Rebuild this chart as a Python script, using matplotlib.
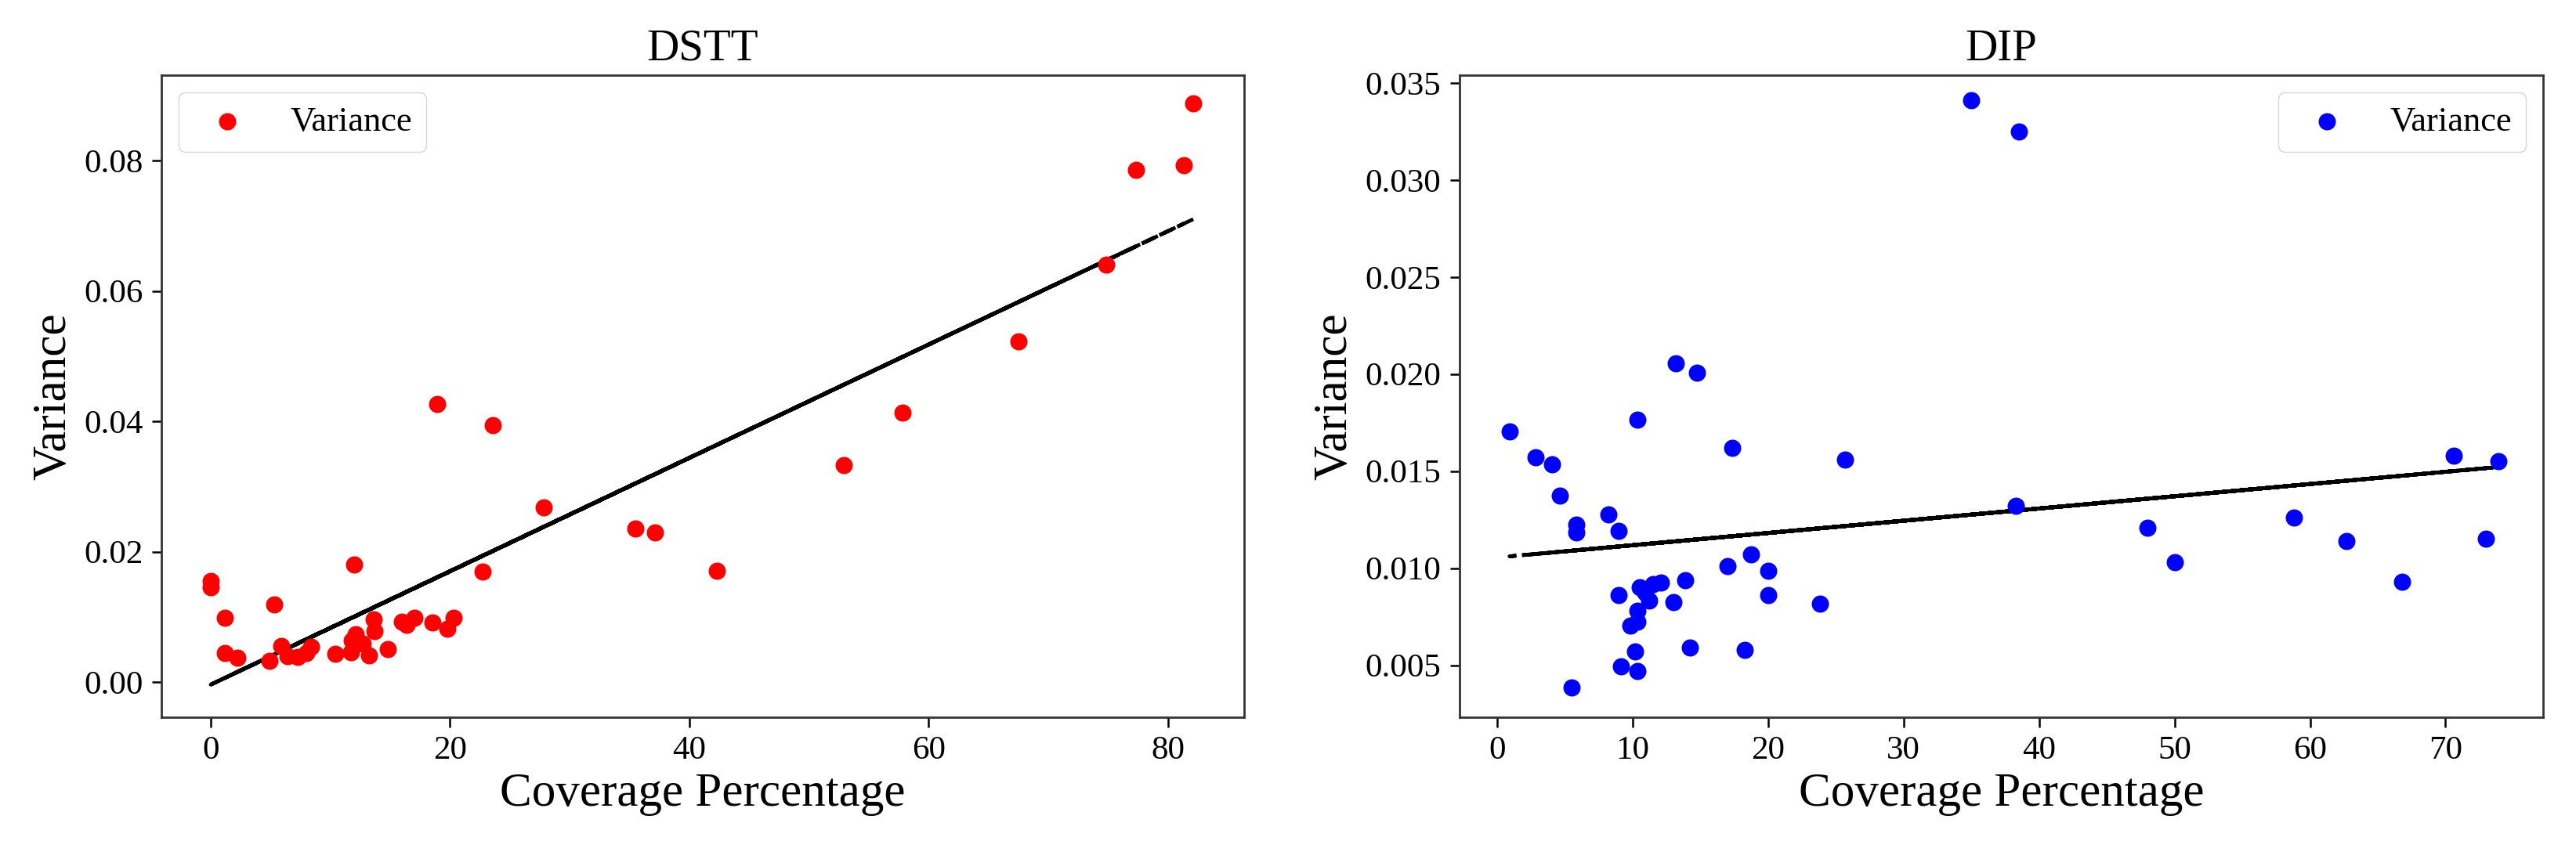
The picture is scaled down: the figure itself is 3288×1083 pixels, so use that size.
import numpy as np
import matplotlib
matplotlib.use("Agg")
import matplotlib.pyplot as plt

plt.rcParams['font.family'] = ['Liberation Serif', 'DejaVu Serif']

# DSTT: coverage percentage vs variance
dstt_cov = [82.1, 0.0, 12.0, 81.3, 1.2, 77.3, 5.3, 74.8, 0.0, 67.5, 22.7, 57.8,
            1.2, 52.9, 2.2, 42.3, 4.9, 37.1, 5.9, 35.5, 6.4, 27.8, 7.3, 23.6,
            8.0, 18.9, 8.4, 10.4, 11.7, 11.8, 12.1, 12.7, 13.2, 13.6, 13.7,
            14.8, 16.0, 16.4, 17.0, 18.5, 19.8, 20.3]
dstt_var = [0.0888, 0.0155, 0.0180, 0.0793, 0.0098, 0.0786, 0.0119, 0.0640,
            0.0145, 0.0522, 0.0169, 0.0413, 0.0044, 0.0333, 0.0037, 0.0171,
            0.0033, 0.0229, 0.0055, 0.0236, 0.0040, 0.0268, 0.0039, 0.0394,
            0.0044, 0.0427, 0.0054, 0.0043, 0.0046, 0.0064, 0.0073, 0.0059,
            0.0041, 0.0096, 0.0078, 0.0051, 0.0092, 0.0088, 0.0098, 0.0091,
            0.0082, 0.0098]

# DIP: coverage percentage vs variance
dip_cov = [13.18, 35.0, 14.76, 38.5, 10.36, 70.6, 0.92, 73.9, 17.36, 38.3,
           2.85, 48.0, 4.06, 58.8, 25.68, 62.7, 4.62, 73.0, 8.24, 50.0, 5.84,
           66.8, 5.84, 8.98, 18.76, 17.01, 20.0, 20.0, 23.82, 13.87, 12.1,
           11.52, 10.55, 10.94, 11.23, 8.98, 13.0, 10.36, 10.36, 9.83, 14.22,
           18.27, 10.21, 9.15, 10.36, 5.49]
dip_var = [0.02057, 0.0341, 0.02006, 0.0325, 0.01764, 0.0158, 0.01703, 0.0155,
           0.01618, 0.0132, 0.01571, 0.0121, 0.01535, 0.0126, 0.01558, 0.0114,
           0.01374, 0.0115, 0.01277, 0.0103, 0.01225, 0.0093, 0.01185, 0.01192,
           0.01071, 0.01010, 0.00986, 0.00862, 0.00815, 0.00936, 0.00926,
           0.00916, 0.00902, 0.00875, 0.00835, 0.00862, 0.00826, 0.00781,
           0.00724, 0.00703, 0.00593, 0.00580, 0.00569, 0.00496, 0.00472,
           0.00387]


def draw_panel(ax, cov, var, color, title, legend_loc, xlim, ylim, yticks, yfmt):
    cov = np.array(cov)
    var = np.array(var)
    ax.scatter(cov, var, s=220, color=color, label='Variance', zorder=3)
    fit = np.poly1d(np.polyfit(cov, var, 1))
    # unsorted x on purpose, dashes pile up like the original
    ax.plot(cov, fit(cov), 'k--', lw=3.4, zorder=2)
    ax.set_xlim(*xlim)
    ax.set_ylim(*ylim)
    ax.set_yticks(yticks)
    ax.set_yticklabels([yfmt % t for t in yticks])
    ax.set_title(title, fontsize=41, pad=14)
    ax.set_xlabel('Coverage Percentage', fontsize=44, labelpad=6)
    ax.set_ylabel('Variance', fontsize=44, labelpad=8)
    ax.tick_params(labelsize=31, length=9, width=1.8, pad=8)
    for sp in ax.spines.values():
        sp.set_linewidth(2.0)
        sp.set_color('#333333')
    ax.legend(loc=legend_loc, fontsize=32)


fig = plt.figure(figsize=(32.88, 10.83), dpi=100)
ax1 = fig.add_axes([0.06265, 0.1542, 0.42032, 0.75716])
ax2 = fig.add_axes([0.56661, 0.1542, 0.42062, 0.75716])

draw_panel(ax1, dstt_cov, dstt_var, 'red', 'DSTT', 'upper left',
           (-4.12, 86.35), (-0.0054, 0.0931),
           [0.0, 0.02, 0.04, 0.06, 0.08], '%.2f')
ax1.set_xticks([0, 20, 40, 60, 80])

draw_panel(ax2, dip_cov, dip_var, 'blue', 'DIP', 'upper right',
           (-2.76, 77.2), (0.00232, 0.0354),
           [0.005, 0.010, 0.015, 0.020, 0.025, 0.030, 0.035], '%.3f')
ax2.set_xticks([0, 10, 20, 30, 40, 50, 60, 70])

fig.savefig('out.png', dpi=100)
